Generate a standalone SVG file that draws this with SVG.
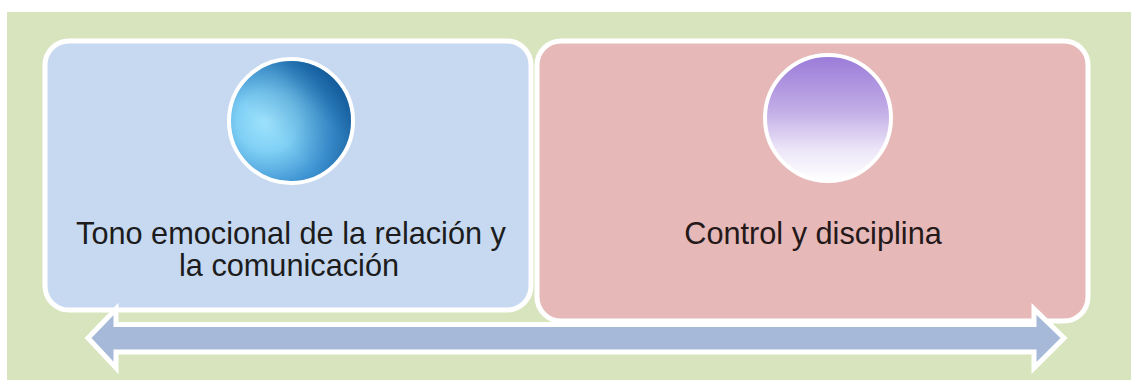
<svg xmlns="http://www.w3.org/2000/svg" width="1131" height="380" viewBox="0 0 1131 380">
  <defs>
    <radialGradient id="gBlue" cx="0.33" cy="0.52" r="0.8" fx="0.3" fy="0.5">
      <stop offset="0" stop-color="#9fe3fd"/>
      <stop offset="0.3" stop-color="#80d0f5"/>
      <stop offset="0.65" stop-color="#3f95d3"/>
      <stop offset="1" stop-color="#1a609f"/>
    </radialGradient>
    <linearGradient id="gBlueShade" x1="0.85" y1="0.05" x2="0.35" y2="0.6">
      <stop offset="0" stop-color="#0a4f8f" stop-opacity="0.85"/>
      <stop offset="0.5" stop-color="#0a4f8f" stop-opacity="0.25"/>
      <stop offset="1" stop-color="#0a4f8f" stop-opacity="0"/>
    </linearGradient>
    <linearGradient id="gPurple" x1="0" y1="0" x2="0" y2="1">
      <stop offset="0" stop-color="#9a7ad9"/>
      <stop offset="0.45" stop-color="#c3aee6"/>
      <stop offset="0.75" stop-color="#ece6f8"/>
      <stop offset="1" stop-color="#ffffff"/>
    </linearGradient>
    <style>
      .box { stroke: #ffffff; stroke-width: 5; }
      .ring { stroke: #ffffff; stroke-width: 4; }
      .lbl { font-family: "Liberation Sans", Arial, sans-serif; font-size: 30.7px; text-anchor: middle; }
    </style>
  </defs>

  <rect x="0" y="0" width="1131" height="380" fill="#ffffff"/>
  <rect id="background" x="7" y="12" width="1124" height="368" fill="#d7e4bd"/>

  <g id="node-tono">
    <rect class="box" x="45" y="41" width="486" height="269" rx="24" ry="24" fill="#c6d9f1"/>
    <circle class="ring" cx="291" cy="121" r="62" fill="url(#gBlue)"/>
    <circle cx="291" cy="121" r="60" fill="url(#gBlueShade)"/>
    <text class="lbl" x="291" y="244" fill="#1c1c1c">Tono emocional de la relación y</text>
    <text class="lbl" x="289" y="276" fill="#1c1c1c">la comunicación</text>
  </g>

  <g id="node-control">
    <rect class="box" x="537" y="41" width="551" height="280" rx="24" ry="24" fill="#e6b9b8"/>
    <circle class="ring" cx="828" cy="118" r="63" fill="url(#gPurple)"/>
    <text class="lbl" x="813" y="244" fill="#241818">Control y disciplina</text>
  </g>

  <g id="connectors">
    <path d="M 88 338 L 116 309 L 116 324.5 L 1034 324.5 L 1034 309 L 1064 338 L 1034 368 L 1034 352 L 116 352 L 116 368 Z" fill="#a7b9d8" stroke="#ffffff" stroke-width="5" stroke-linejoin="miter"/>
  </g>
</svg>
